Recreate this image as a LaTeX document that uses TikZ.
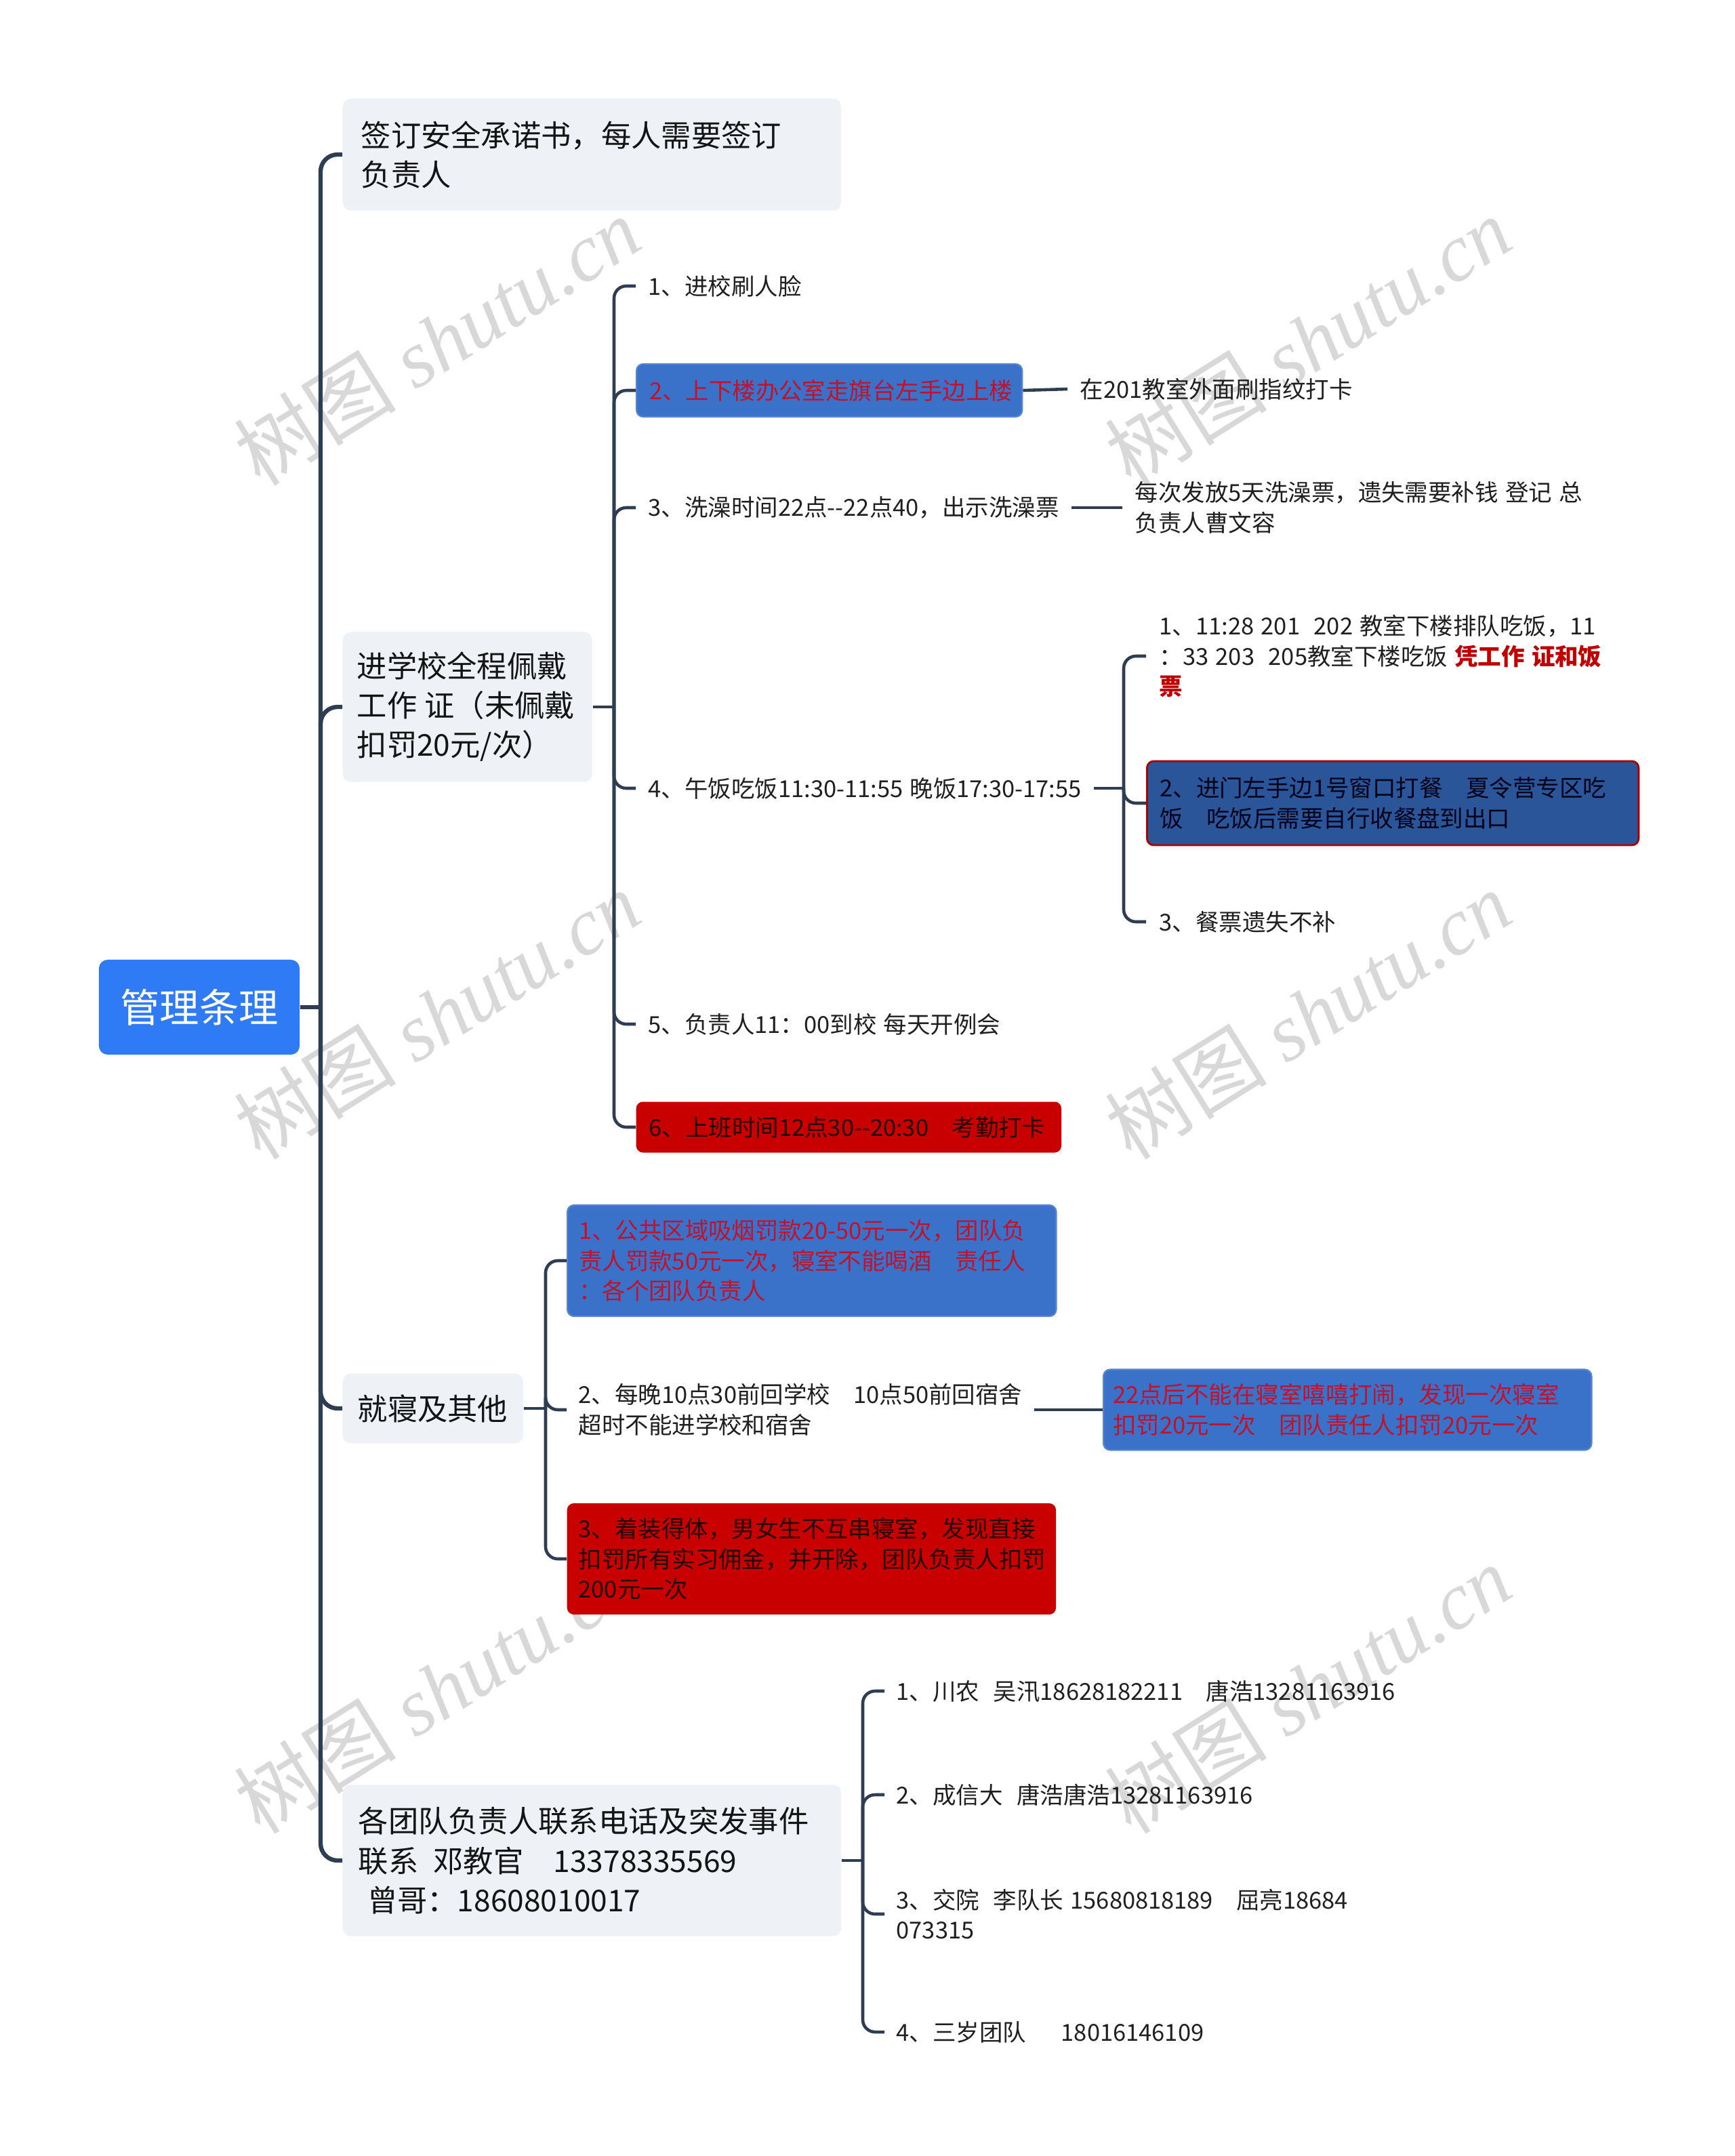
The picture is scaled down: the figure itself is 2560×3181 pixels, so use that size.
\documentclass[tikz,border=0pt]{standalone}
\usepackage{fontspec}
\setmainfont{Noto Sans CJK SC}
\newfontfamily\wmlat{Liberation Serif}
\definecolor{linec}{HTML}{2E3D52}
\definecolor{rootc}{HTML}{2F7BF5}
\definecolor{grayc}{HTML}{EEF1F5}
\definecolor{blueb}{HTML}{3B72C9}
\definecolor{darkb}{HTML}{2A5699}
\definecolor{redb}{HTML}{C80000}
\definecolor{redt}{HTML}{C1122C}
\definecolor{darkt}{HTML}{220505}
\definecolor{boldred}{HTML}{C00000}
\definecolor{wm}{HTML}{D8D8D8}
\begin{document}
\begin{tikzpicture}[
 x=0.01cm, y=-0.01cm,
 mainline/.style={draw=linec, line width=1.8pt, rounded corners=0.25cm},
 subline/.style={draw=linec, line width=1.3pt, rounded corners=0.18cm},
 rootbox/.style={fill=rootc, rounded corners=0.13cm, text=white, font=\fontsize{16.6pt}{20pt}\selectfont, minimum width=2.96cm, minimum height=1.4cm, inner sep=0pt},
 topicbox/.style={fill=grayc, rounded corners=0.12cm, font=\fontsize{12.6pt}{16.5pt}\selectfont, align=left, anchor=west, inner ysep=0pt, text=black!92},
 leaf/.style={font=\fontsize{9.8pt}{12.7pt}\selectfont, align=left, anchor=west, inner xsep=0.18cm, inner ysep=0.1cm, text=black!88},
 bluebox/.style={leaf, fill=blueb, draw=blueb!85!white, line width=0.6pt, rounded corners=0.1cm, text=redt},
 redbox/.style={leaf, fill=redb, rounded corners=0.1cm, text=darkt},
 navybox/.style={leaf, fill=darkb, draw=boldred!90!black, line width=0.8pt, rounded corners=0.1cm, text=black!90!blue},
 wmark/.style={text=wm, rotate=32, font=\fontsize{34pt}{38pt}\selectfont}
]
\useasboundingbox (0,0) rectangle (2560,3181);

% watermarks
\foreach \x/\y [count=\i] in {645/503,1930/503,645/1497,1930/1497,645/2492,1930/2492}
  \node[wmark] (wm\i) at (\x,\y) {树图\kern.25em{\wmlat\itshape shutu.cn}};

% root
\node[rootbox] (root) at (294,1486) {管理条理};

% main topics
\node[topicbox, text width=6.81cm, inner xsep=0.27cm, minimum height=1.65cm] (b1) at (505,228) {签订安全承诺书，每人需要签订\\负责人};
\node[topicbox, text width=3.26cm, inner xsep=0.21cm, minimum height=2.21cm] (b2) at (505,1043) {进学校全程佩戴\\工作\kern.25em证（未佩戴\\扣罚20元/次）};
\node[topicbox, text width=2.22cm, inner xsep=0.22cm, minimum height=1.03cm] (b3) at (505,2078) {就寝及其他};
\node[topicbox, text width=6.89cm, inner xsep=0.23cm, minimum height=2.23cm] (b4) at (505,2745) {各团队负责人联系电话及突发事件\\联系\kern.5em邓教官\kern1em13378335569\\\leavevmode\kern.3em曾哥：18608010017};

\coordinate (j0) at (473,1486);
\draw[mainline] (root.east) -- (j0);
\foreach \n in {b1,b2,b3,b4}
  \draw[mainline] (j0) -- (j0 |- \n.west) -- (\n.west);

% branch 2
\node[leaf] (c1) at (938,422) {1、进校刷人脸};
\node[bluebox, text width=5.31cm, inner xsep=0.19cm, minimum height=0.78cm] (c2) at (938,576) {2、上下楼办公室走旗台左手边上楼};
\node[leaf] (c3) at (938,749) {3、洗澡时间22点{-}{-}22点40，出示洗澡票};
\node[leaf] (c4) at (938,1163) {4、午饭吃饭11:30-11:55\kern.3em晚饭17:30-17:55};
\node[leaf] (c5) at (938,1511) {5、负责人11：00到校\kern.3em每天开例会};
\node[redbox, text width=5.89cm, inner xsep=0.19cm, minimum height=0.75cm] (c6) at (938,1663) {6、上班时间12点30{-}{-}20:30\kern1em考勤打卡};

\coordinate (j2) at (906,1043);
\draw[subline] (b2.east) -- (j2);
\foreach \n in {c1,c2,c3,c4,c5,c6}
  \draw[subline] (j2) -- (j2 |- \n.west) -- (\n.west);

\node[leaf] (c2c) at (1575,574) {在201教室外面刷指纹打卡};
\draw[subline] (c2.east) -- (c2c.west);
\node[leaf] (c3c) at (1656,749) {每次发放5天洗澡票，遗失需要补钱\kern.3em登记\kern.3em总\\负责人曹文容};
\draw[subline] (c3.east) -- (c3c.west);

% lunch sub-branch
\node[leaf, inner xsep=0.19cm] (g1) at (1691,968) {1、11:28\kern.3em201\kern.6em202\kern.3em教室下楼排队吃饭，11\\：33\kern.3em203\kern.6em205教室下楼吃饭\kern.3em{\bfseries\color{boldred}凭工作\kern.3em证和饭}\\{\bfseries\color{boldred}票}};
\node[navybox, text width=6.87cm, inner xsep=0.19cm, minimum height=1.24cm] (g2) at (1691,1185) {2、进门左手边1号窗口打餐\kern1em夏令营专区吃\\饭\kern1em吃饭后需要自行收餐盘到出口};
\node[leaf, inner xsep=0.19cm] (g3) at (1691,1360) {3、餐票遗失不补};
\coordinate (j4) at (1658,1163);
\draw[subline] (c4.east) -- (j4);
\foreach \n in {g1,g2,g3}
  \draw[subline] (j4) -- (j4 |- \n.west) -- (\n.west);

% branch 3
\node[bluebox, text width=6.87cm, inner xsep=0.17cm, minimum height=1.64cm] (d1) at (836,1860) {1、公共区域吸烟罚款20-50元一次，团队负\\责人罚款50元一次，寝室不能喝酒\kern1em责任人\\：各个团队负责人};
\node[leaf, inner xsep=0.17cm] (d2) at (836,2080) {2、每晚10点30前回学校\kern1em10点50前回宿舍\\超时不能进学校和宿舍};
\node[redbox, text width=6.87cm, inner xsep=0.17cm, minimum height=1.64cm] (d3) at (836,2300) {3、着装得体，男女生不互串寝室，发现直接\\扣罚所有实习佣金，并开除，团队负责人扣罚\\200元一次};
\coordinate (j3) at (805,2078);
\draw[subline] (b3.east) -- (j3);
\foreach \n in {d1,d2,d3}
  \draw[subline] (j3) -- (j3 |- \n.west) -- (\n.west);
\node[bluebox, text width=6.92cm, inner xsep=0.14cm, minimum height=1.19cm] (d2c) at (1627,2080) {22点后不能在寝室嘻嘻打闹，发现一次寝室\\扣罚20元一次\kern1em团队责任人扣罚20元一次};
\draw[subline] (d2.east) -- (d2c.west);

% branch 4
\node[leaf, inner xsep=0.17cm] (e1) at (1305,2495) {1、川农\kern.6em吴汛18628182211\kern1em唐浩13281163916};
\node[leaf, inner xsep=0.17cm] (e2) at (1305,2648) {2、成信大\kern.6em唐浩唐浩13281163916};
\node[leaf, inner xsep=0.17cm] (e3) at (1305,2824) {3、交院\kern.6em李队长\kern.3em15680818189\kern1em屈亮18684\\073315};
\node[leaf, inner xsep=0.17cm] (e4) at (1305,2998) {4、三岁团队\kern1.5em18016146109};
\coordinate (j5) at (1273,2745);
\draw[subline] (b4.east) -- (j5);
\foreach \n in {e1,e2,e3,e4}
  \draw[subline] (j5) -- (j5 |- \n.west) -- (\n.west);
\end{tikzpicture}
\end{document}
